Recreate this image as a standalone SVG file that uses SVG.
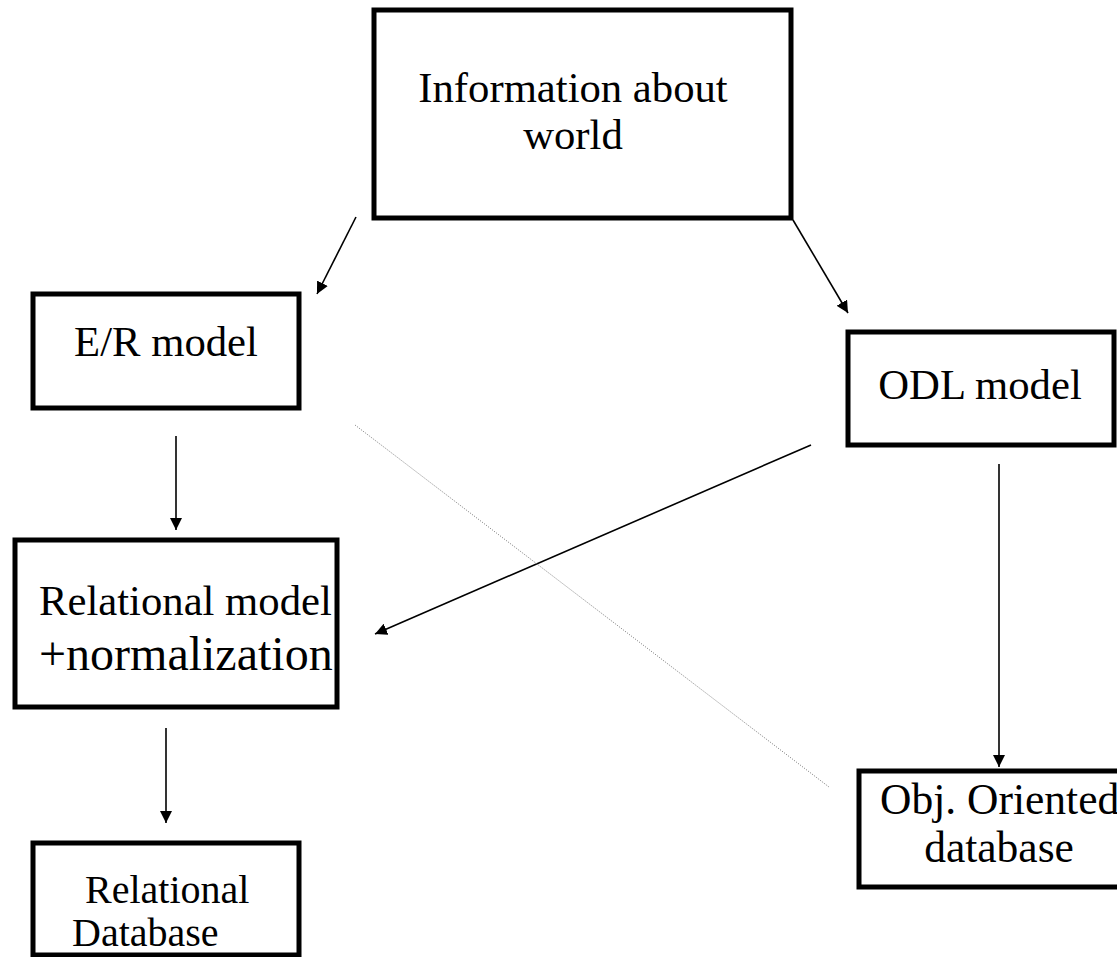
<svg xmlns="http://www.w3.org/2000/svg" width="1117" height="957" viewBox="0 0 1117 957">
<style>
.box{fill:#fff;stroke:#000;stroke-width:5}
.t{font-family:"Liberation Serif","Times New Roman",serif;fill:#000}
.c{stroke:#000;stroke-width:1.6;fill:none}
.dot{stroke:#777;stroke-width:1;stroke-dasharray:1 1.5;fill:none}
</style>
<defs>
<marker id="ah" markerUnits="userSpaceOnUse" markerWidth="13" markerHeight="12" refX="12" refY="6" orient="auto">
<path d="M0,0 L12,6 L0,12 z" fill="#000"/>
</marker>
</defs>
<rect width="1117" height="957" fill="#fff"/>
<g id="info">
<rect class="box" x="374" y="10" width="417" height="208"/>
<text class="t" x="573" y="102" font-size="42.7" text-anchor="middle">Information about</text>
<text class="t" x="573" y="149" font-size="42.7" text-anchor="middle">world</text>
</g>
<g id="er">
<rect class="box" x="33" y="294" width="266" height="114"/>
<text class="t" x="166" y="356" font-size="42.7" text-anchor="middle">E/R model</text>
</g>
<g id="relmodel">
<rect class="box" x="15" y="540" width="322" height="167"/>
<text class="t" x="39" y="615" font-size="42.7">Relational model</text>
<text class="t" x="39" y="670" font-size="48">+normalization</text>
</g>
<g id="reldb">
<rect class="box" x="33" y="843" width="266" height="112"/>
<text class="t" x="85" y="903" font-size="40">Relational</text>
<text class="t" x="72" y="946" font-size="40">Database</text>
</g>
<g id="odl">
<rect class="box" x="848" y="332" width="266" height="113"/>
<text class="t" x="980" y="399" font-size="42.7" text-anchor="middle">ODL model</text>
</g>
<g id="oodb">
<rect class="box" x="859" y="771" width="266" height="116"/>
<text class="t" x="880" y="814" font-size="43.5">Obj. Oriented</text>
<text class="t" x="999" y="862" font-size="43.5" text-anchor="middle">database</text>
</g>
<g id="connectors">
<line class="c" x1="356" y1="217" x2="317" y2="294" marker-end="url(#ah)"/>
<line class="c" x1="793" y1="220" x2="848" y2="313" marker-end="url(#ah)"/>
<line class="c" x1="176" y1="436" x2="176" y2="530" marker-end="url(#ah)"/>
<line class="c" x1="166" y1="728" x2="166" y2="823" marker-end="url(#ah)"/>
<line class="c" x1="811" y1="445" x2="375" y2="634" marker-end="url(#ah)"/>
<line class="c" x1="999" y1="464" x2="999" y2="767" marker-end="url(#ah)"/>
<line class="dot" x1="355" y1="425" x2="829" y2="787"/>
</g>
</svg>
